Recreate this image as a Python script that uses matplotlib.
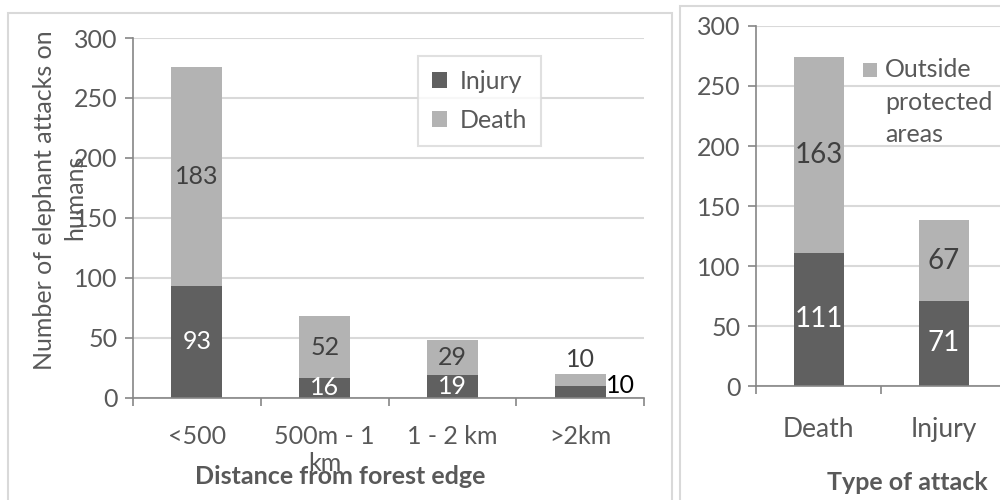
import matplotlib.pyplot as plt
from matplotlib.patches import Rectangle

# datos panel izquierdo: distancia al borde del bosque
distancias = ['<500', '500m - 1\nkm', '1 - 2 km', '>2km']
lesiones = [93, 16, 19, 10]
muertes = [183, 52, 29, 10]

# datos panel derecho: tipo de ataque
tipos = ['Death', 'Injury']
dentro = [111, 71]
fuera = [163, 67]

OSCURO = '#606060'
CLARO = '#b3b3b3'
TEXTO = '#595959'
REJILLA = '#d9d9d9'
EJE = '#868686'

plt.rcParams['font.family'] = ['Lato', 'DejaVu Sans']
plt.rcParams['font.size'] = 18

fig = plt.figure(figsize=(10, 5), dpi=100)

# marcos de los dos graficos
fig.patches.append(Rectangle((0.008, -0.05), 0.664, 1.024, transform=fig.transFigure,
                             fill=False, edgecolor=REJILLA, linewidth=1.5))
fig.patches.append(Rectangle((0.680, -0.05), 0.5, 1.038, transform=fig.transFigure,
                             fill=False, edgecolor=REJILLA, linewidth=1.5))


def estilo_ejes(ax):
    ax.set_ylim(0, 300)
    ax.set_yticks(range(0, 301, 50))
    ax.grid(axis='y', color=REJILLA, linewidth=1.5)
    ax.set_axisbelow(True)
    for lado in ['top', 'right']:
        ax.spines[lado].set_visible(False)
    for lado in ['left', 'bottom']:
        ax.spines[lado].set_color(EJE)
        ax.spines[lado].set_linewidth(1.2)
    ax.tick_params(axis='y', colors=EJE, labelcolor=TEXTO, length=6, width=1.2, pad=5)
    ax.tick_params(axis='x', which='major', length=0, labelcolor=TEXTO)
    ax.tick_params(axis='x', which='minor', colors=EJE, length=6, width=1.2)


# ---- panel izquierdo
ax = fig.add_axes([0.133, 0.205, 0.511, 0.719])
pos = list(range(len(distancias)))
ax.bar(pos, lesiones, width=0.4, color=OSCURO, label='Injury')
ax.bar(pos, muertes, width=0.4, bottom=lesiones, color=CLARO, label='Death')
ax.set_xlim(-0.5, len(distancias) - 0.5)
ax.set_xticks(pos)
ax.set_xticklabels(distancias)
ax.set_xticks([p - 0.5 for p in pos] + [len(distancias) - 0.5], minor=True)
estilo_ejes(ax)
ax.tick_params(axis='x', which='major', pad=20)

for i in range(3):
    ax.text(i, lesiones[i] / 2, str(lesiones[i]), ha='center', va='center', color='white')
    ax.text(i, lesiones[i] + muertes[i] / 2, str(muertes[i]), ha='center', va='center', color='#404040')
# la ultima barra es muy baja: etiquetas fuera
ax.text(3, lesiones[3] + muertes[3] + 2, str(muertes[3]), ha='center', va='bottom', color='#404040')
ax.text(3.2, lesiones[3], str(lesiones[3]), ha='left', va='center', color='black')

leg = ax.legend(loc='upper left', bbox_to_anchor=(0.418, 0.888), bbox_transform=fig.transFigure,
                frameon=True, fancybox=False, edgecolor=REJILLA, handlelength=0.62,
                handleheight=0.62, handletextpad=0.5, labelspacing=0.65, borderpad=0.55,
                borderaxespad=0)
leg.get_frame().set_linewidth(1.5)
for t in leg.get_texts():
    t.set_color(TEXTO)

fig.text(0.045, 0.60, 'Number of elephant attacks on', rotation=90, ha='center', va='center', color=TEXTO)
fig.text(0.075, 0.606, 'humans', rotation=90, ha='center', va='center', color=TEXTO)
fig.text(0.340, 0.046, 'Distance from forest edge', ha='center', va='center',
         fontweight='bold', color=TEXTO)

# ---- panel derecho (recortado en el borde de la figura)
ax2 = fig.add_axes([0.756, 0.228, 0.244, 0.72])
pos2 = list(range(len(tipos)))
ax2.bar(pos2, dentro, width=0.4, color=OSCURO)
ax2.bar(pos2, fuera, width=0.4, bottom=dentro, color=CLARO)
ax2.set_xlim(-0.5, -0.5 + 244 / 125)
ax2.set_xticks(pos2)
ax2.set_xticklabels(tipos)
ax2.set_xticks([-0.5, 0.5], minor=True)
estilo_ejes(ax2)
ax2.tick_params(axis='x', which='major', pad=22, labelsize=19)

for i in range(len(tipos)):
    ax2.text(i, dentro[i] / 2, str(dentro[i]), ha='center', va='center', color='white', fontsize=20)
    ax2.text(i, dentro[i] + fuera[i] / 2, str(fuera[i]), ha='center', va='center',
             color='#404040', fontsize=20)

fig.patches.append(Rectangle((0.863, 0.846), 0.014, 0.028, transform=fig.transFigure,
                             facecolor=CLARO, edgecolor='none'))
fig.text(0.885, 0.884, 'Outside\nprotected\nareas', ha='left', va='top', color=TEXTO,
         linespacing=1.5, fontsize=18)
fig.text(0.827, 0.036, 'Type of attack', ha='left', va='center', fontweight='bold', color=TEXTO)

fig.savefig('out.png', dpi=100)
